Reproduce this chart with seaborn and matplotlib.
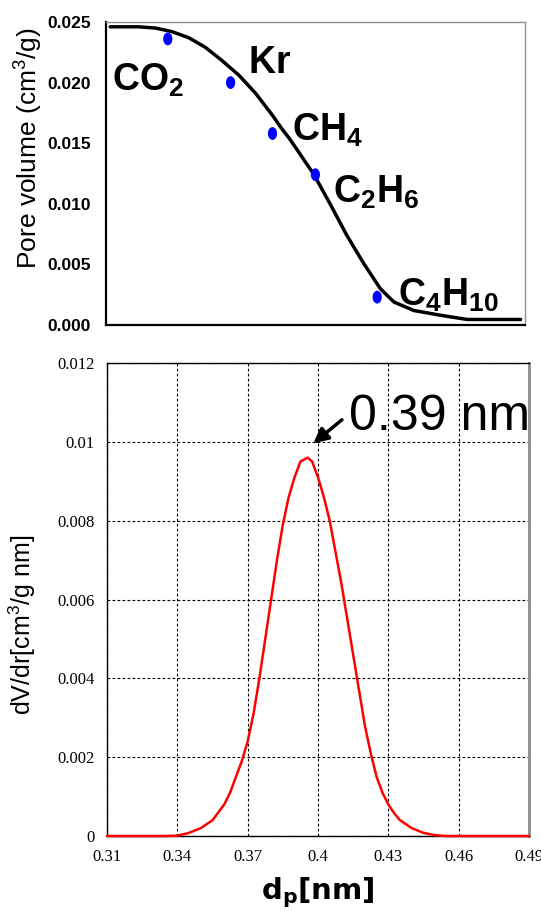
import matplotlib
matplotlib.use('Agg')
import matplotlib.pyplot as plt
from matplotlib import font_manager
from matplotlib.path import Path
from matplotlib.transforms import Affine2D
import seaborn as sns

# top panel: pore volume vs probe gas
fit_x = [0.04, 0.31, 0.47, 0.63, 0.79, 0.95, 1.11, 1.27, 1.43, 1.59, 1.67,
         1.75, 1.83, 1.90, 1.98, 2.14, 2.30, 2.46, 2.62, 2.75, 2.94, 3.20,
         3.45, 3.96]
fit_y = [0.0246, 0.0246, 0.0245, 0.0242, 0.0237, 0.0229, 0.0218, 0.0206,
         0.0191, 0.0173, 0.0163, 0.0154, 0.0144, 0.0135, 0.0125, 0.0100,
         0.0074, 0.0051, 0.0030, 0.0019, 0.0012, 0.0008, 0.00046, 0.00046]
gas_x = [0.59, 1.19, 1.59, 2.00, 2.59]
gas_y = [0.0236, 0.0200, 0.0158, 0.0124, 0.0023]
gas_names = [r'$\mathbf{CO_2}$', r'$\mathbf{Kr}$', r'$\mathbf{CH_4}$',
             r'$\mathbf{C_2H_6}$', r'$\mathbf{C_4H_{10}}$']
top_yticks = [0.000, 0.005, 0.010, 0.015, 0.020, 0.025]

# bottom panel: pore size distribution
dp = [0.31, 0.335, 0.340, 0.345, 0.350, 0.355, 0.360, 0.3625, 0.365, 0.3675,
      0.370, 0.3725, 0.375, 0.3775, 0.380, 0.3825, 0.385, 0.3875, 0.390,
      0.3925, 0.3956, 0.3975, 0.400, 0.4025, 0.405, 0.4075, 0.410, 0.4125,
      0.415, 0.4175, 0.420, 0.4225, 0.425, 0.4275, 0.430, 0.4325, 0.435,
      0.440, 0.445, 0.450, 0.455, 0.49]
dvdr = [0, 0, 0.00001, 0.00008, 0.0002, 0.0004, 0.0008, 0.0011, 0.0015,
        0.0019, 0.0024, 0.0031, 0.0040, 0.0050, 0.0060, 0.0070, 0.0079,
        0.0086, 0.0091, 0.0095, 0.0096, 0.0095, 0.0091, 0.0086, 0.0080,
        0.0072, 0.0064, 0.0055, 0.0046, 0.0037, 0.0028, 0.0021, 0.0015,
        0.0011, 0.0008, 0.00058, 0.0004, 0.0002, 0.00008, 0.00002, 0, 0]
bot_xticks = [0.31, 0.34, 0.37, 0.40, 0.43, 0.46, 0.49]
bot_xlabels = ['0.31', '0.34', '0.37', '0.4', '0.43', '0.46', '0.49']
bot_yticks = [0, 0.002, 0.004, 0.006, 0.008, 0.010, 0.012]
bot_ylabels = ['0', '0.002', '0.004', '0.006', '0.008', '0.01', '0.012']
peak_label = '0.39 nm'

sns.set_style('white')
names = {f.name for f in font_manager.fontManager.ttflist}
narrow = 'Liberation Sans Narrow' if 'Liberation Sans Narrow' in names else 'Liberation Sans'
plt.rcParams['font.family'] = ['Liberation Sans', 'DejaVu Sans']
plt.rcParams['mathtext.fontset'] = 'custom'
plt.rcParams['mathtext.rm'] = narrow
plt.rcParams['mathtext.bf'] = narrow + ':bold'
for k in ['text.color', 'axes.labelcolor', 'xtick.color', 'ytick.color']:
    plt.rcParams[k] = 'black'

# tall ellipse for the gas points
oval = Path.unit_circle().transformed(Affine2D().scale(0.72, 1.0))

fig = plt.figure(figsize=(5.41, 9.11), dpi=100)
ax1 = fig.add_axes([0.196, 0.6432, 0.774, 0.3327])
ax2 = fig.add_axes([0.1978, 0.0823, 0.78, 0.5192])

# ---- top
sns.lineplot(x=fit_x, y=fit_y, ax=ax1, color='black', lw=2.5)
sns.scatterplot(x=gas_x, y=gas_y, ax=ax1, color='#0000ff', s=85,
                marker=oval, edgecolor='none', zorder=3)
label_off = [(-0.53, -0.0043), (0.17, 0.0008), (0.19, -0.0006),
             (0.17, -0.0023), (0.20, -0.0007)]
for name, x, y, (dx, dy) in zip(gas_names, gas_x, gas_y, label_off):
    ax1.text(x + dx, y + dy, name, fontsize=27, ha='left', va='baseline')

ax1.set_xlim(0, 4)
ax1.set_ylim(0, 0.025)
ax1.set_xticks([1, 2, 3])
ax1.set_xticklabels([])
ax1.set_yticks(top_yticks)
ax1.set_yticklabels(['%.3f' % v for v in top_yticks], fontfamily=narrow,
                    fontweight='bold', fontsize=12.5)
ax1.tick_params(axis='x', direction='in', length=5, width=1)
ax1.tick_params(axis='y', direction='in', length=3, width=1, pad=11)
for s in ['left', 'bottom']:
    ax1.spines[s].set_color('black')
    ax1.spines[s].set_linewidth(1.6)
for s in ['top', 'right']:
    ax1.spines[s].set_color('#909090')
    ax1.spines[s].set_linewidth(1.0)
ax1.set_ylabel('Pore volume (cm$^3$/g)', fontsize=19, va='center')
ax1.yaxis.set_label_coords(-0.188, 0.584)

# ---- bottom
sns.lineplot(x=dp, y=dvdr, ax=ax2, color='#ff0000', lw=1.8, clip_on=False,
             zorder=3)
ax2.set_xlim(0.31, 0.49)
ax2.set_ylim(0, 0.012)
ax2.set_xticks(bot_xticks)
ax2.set_xticklabels(bot_xlabels, fontfamily='Liberation Serif', fontsize=12)
ax2.set_yticks(bot_yticks)
ax2.set_yticklabels(bot_ylabels, fontfamily='Liberation Serif', fontsize=12)
ax2.tick_params(length=0, pad=9)
ax2.grid(True, color='black', linestyle=(0, (2.5, 2)), lw=0.8)
for s in ['left', 'bottom', 'top']:
    ax2.spines[s].set_color('black')
    ax2.spines[s].set_linewidth(1.0)
ax2.spines['right'].set_color('#8c8c8c')
ax2.spines['right'].set_linewidth(2.0)
ax2.set_xlabel(r'd$_\mathregular{p}$[nm]', fontsize=21, fontweight='bold',
               fontfamily='DejaVu Sans', labelpad=8)
ax2.set_ylabel('dV/dr[cm$^3$/g nm]', fontsize=18, va='center')
ax2.yaxis.set_label_coords(-0.2, 0.446)

pk = dvdr.index(max(dvdr))
ax2.annotate(peak_label, xy=(dp[pk] + 0.0024, max(dvdr) + 0.00036),
             xytext=(0.4133, 0.01029), fontsize=36, ha='left', va='baseline',
             arrowprops=dict(arrowstyle='-|>', color='black', lw=2.5,
                             mutation_scale=22, shrinkA=0, shrinkB=0,
                             relpos=(-0.04, 0.45)))

fig.savefig('out.png', dpi=100)
